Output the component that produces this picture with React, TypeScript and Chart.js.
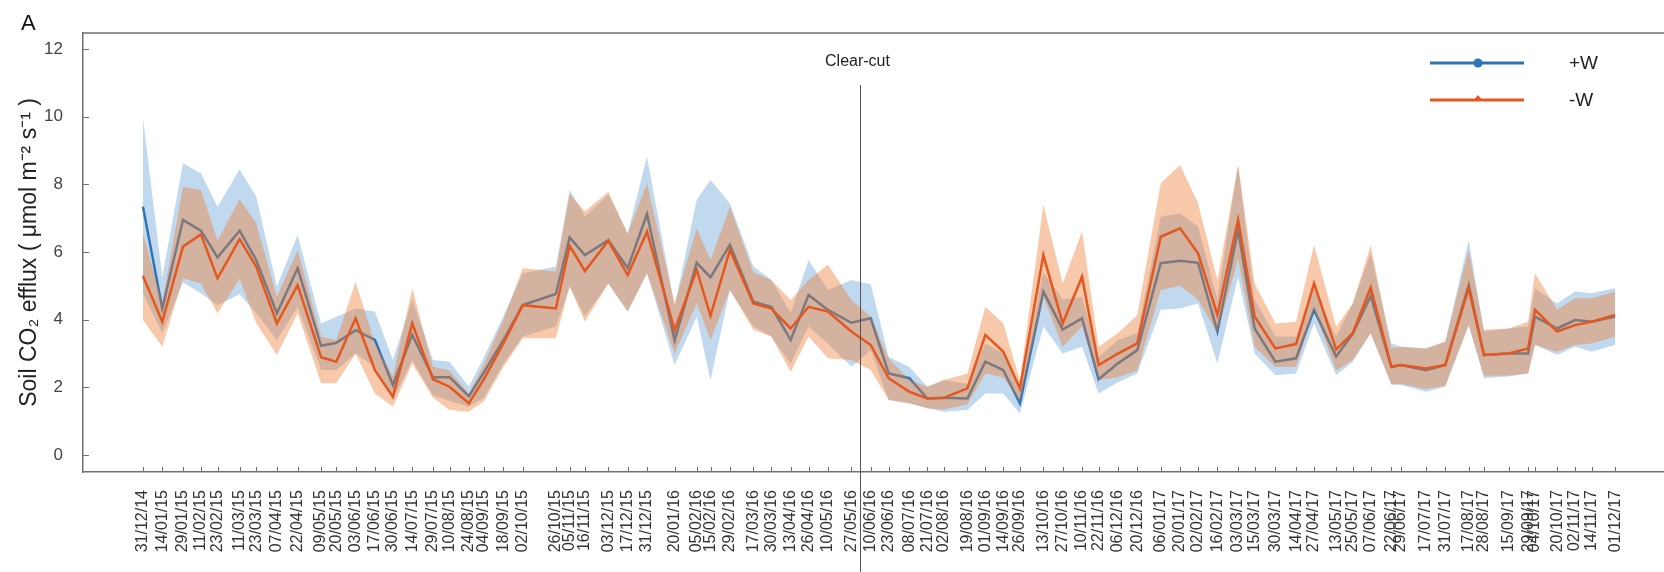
import React, { useEffect, useRef } from "react";
import { Chart, registerables } from "chart.js";

Chart.register(...registerables);

const dates = [
  "31/12/14", "14/01/15", "29/01/15", "11/02/15", "23/02/15", "11/03/15", "23/03/15", "07/04/15", "22/04/15", "09/05/15",
  "20/05/15", "03/06/15", "17/06/15", "30/06/15", "14/07/15", "29/07/15", "10/08/15", "24/08/15", "04/09/15", "18/09/15",
  "02/10/15", "26/10/15", "05/11/15", "16/11/15", "03/12/15", "17/12/15", "31/12/15", "20/01/16", "05/02/16", "15/02/16",
  "29/02/16", "17/03/16", "30/03/16", "13/04/16", "26/04/16", "10/05/16", "27/05/16", "10/06/16", "23/06/16", "08/07/16",
  "21/07/16", "02/08/16", "19/08/16", "01/09/16", "14/09/16", "26/09/16", "13/10/16", "27/10/16", "10/11/16", "22/11/16",
  "06/12/16", "20/12/16", "06/01/17", "20/01/17", "02/02/17", "16/02/17", "03/03/17", "15/03/17", "30/03/17", "14/04/17",
  "27/04/17", "13/05/17", "25/05/17", "07/06/17", "22/06/17", "29/06/17", "17/07/17", "31/07/17", "17/08/17", "28/08/17",
  "15/09/17", "29/09/17", "04/10/17", "20/10/17", "02/11/17", "14/11/17", "01/12/17",
];

const plusWMean = [
  7.34, 4.33, 6.95, 6.63, 5.84, 6.63, 5.76, 4.19, 5.52, 3.23,
  3.32, 3.69, 3.40, 2.07, 3.55, 2.30, 2.30, 1.74, 2.45, 3.40,
  4.43, 4.76, 6.43, 5.91, 6.35, 5.52, 7.12, 3.38, 5.68, 5.25,
  6.21, 4.53, 4.38, 3.40, 4.73, 4.29, 3.91, 4.04, 2.41, 2.27,
  1.67, 1.69, 1.67, 2.76, 2.51, 1.53, 4.83, 3.71, 4.04, 2.24,
  2.71, 3.10, 5.67, 5.74, 5.68, 3.65, 6.65, 3.74, 2.76, 2.86,
  4.29, 2.91, 3.58, 4.70, 2.61, 2.66, 2.51, 2.66, 5.02, 2.96,
  3.00, 3.00, 4.09, 3.74, 3.99, 3.94, 4.09,
];
const plusWHigh = [
  9.96, 5.26, 8.62, 8.33, 7.34, 8.44, 7.64, 4.98, 6.50, 3.89,
  4.09, 4.33, 4.24, 2.81, 4.60, 2.81, 2.76, 2.02, 2.90, 4.10,
  5.37, 5.57, 7.83, 7.04, 7.70, 6.55, 8.82, 4.40, 7.54, 8.13,
  7.44, 5.57, 5.17, 4.20, 5.76, 4.88, 5.17, 5.05, 2.90, 2.60,
  2.02, 2.22, 2.10, 3.30, 3.00, 2.00, 5.40, 4.60, 4.68, 2.90,
  3.40, 3.60, 7.04, 7.14, 6.75, 4.60, 8.57, 4.60, 3.50, 3.50,
  4.90, 3.50, 4.48, 5.96, 3.30, 3.20, 3.15, 3.35, 6.35, 3.65,
  3.74, 3.80, 4.93, 4.48, 4.83, 4.78, 4.93,
];
const plusWLow = [
  4.78, 3.60, 5.10, 4.78, 4.43, 4.75, 4.20, 3.40, 4.38, 2.51,
  2.51, 3.00, 2.61, 1.63, 2.81, 1.77, 1.60, 1.43, 1.70, 2.70,
  3.50, 3.80, 4.98, 4.10, 5.07, 4.24, 5.37, 2.66, 4.09, 2.22,
  4.88, 3.80, 3.50, 2.70, 3.80, 3.30, 2.61, 3.10, 1.63, 1.53,
  1.38, 1.28, 1.33, 1.82, 1.82, 1.23, 3.80, 3.00, 3.20, 1.82,
  2.15, 2.41, 4.29, 4.33, 4.48, 2.71, 5.27, 3.00, 2.36, 2.41,
  3.89, 2.36, 2.75, 3.60, 2.07, 2.07, 1.87, 2.02, 3.84, 2.27,
  2.32, 2.41, 3.25, 2.96, 3.20, 3.05, 3.25,
];

const minusWMean = [
  5.29, 3.94, 6.16, 6.52, 5.22, 6.38, 5.57, 3.89, 5.02, 2.89,
  2.76, 4.04, 2.51, 1.72, 3.89, 2.24, 2.02, 1.53, 2.25, 3.30,
  4.43, 4.33, 6.18, 5.44, 6.33, 5.32, 6.60, 3.69, 5.47, 4.11,
  6.06, 4.48, 4.33, 3.74, 4.38, 4.24, 3.65, 3.25, 2.27, 1.87,
  1.67, 1.69, 1.97, 3.55, 3.05, 1.97, 5.91, 3.89, 5.27, 2.66,
  3.00, 3.30, 6.45, 6.70, 5.96, 4.14, 6.95, 4.09, 3.15, 3.28,
  5.07, 3.12, 3.60, 4.95, 2.61, 2.66, 2.56, 2.66, 4.93, 2.96,
  3.00, 3.15, 4.29, 3.65, 3.84, 3.94, 4.14,
];
const minusWHigh = [
  6.56, 4.50, 7.93, 7.83, 6.35, 7.56, 6.85, 4.68, 6.06, 3.50,
  3.40, 5.12, 3.30, 2.32, 4.93, 2.61, 2.50, 1.80, 2.70, 4.00,
  5.52, 5.42, 7.73, 7.20, 7.78, 6.55, 8.03, 4.48, 6.70, 5.76,
  7.34, 5.40, 5.17, 4.58, 5.17, 5.62, 4.58, 4.09, 2.85, 2.22,
  2.02, 2.22, 2.41, 4.38, 3.89, 2.20, 7.39, 5.07, 6.60, 3.20,
  3.60, 4.14, 8.03, 8.57, 7.44, 5.17, 8.57, 5.07, 3.89, 3.94,
  6.21, 3.79, 4.48, 6.20, 3.15, 3.20, 3.15, 3.35, 6.06, 3.70,
  3.74, 3.94, 5.37, 4.29, 4.63, 4.63, 4.83,
];
const minusWLow = [
  3.99, 3.20, 5.22, 5.07, 4.19, 5.20, 3.90, 2.96, 4.19, 2.12,
  2.12, 3.00, 1.82, 1.43, 2.70, 1.70, 1.33, 1.28, 1.60, 2.60,
  3.45, 3.45, 4.98, 3.94, 5.07, 4.24, 5.37, 3.00, 4.48, 3.40,
  4.88, 3.70, 3.50, 2.46, 3.50, 2.86, 2.81, 2.51, 1.63, 1.53,
  1.38, 1.35, 1.50, 2.41, 2.30, 1.60, 4.68, 3.20, 3.80, 2.22,
  2.30, 2.50, 4.88, 5.00, 4.60, 3.60, 5.80, 3.20, 2.60, 2.60,
  4.30, 2.50, 2.81, 3.60, 2.10, 2.10, 1.95, 2.05, 3.84, 2.35,
  2.35, 2.41, 3.25, 3.05, 3.25, 3.30, 3.50,
];

const yTicks = [0, 2, 4, 6, 8, 10, 12];
const seriesNames = ["+W", "-W"];
const clearCutDate = "02/06/16";
const clearCutLabel = "Clear-cut";
const panelLabel = "A";
const yTitle = "Soil CO\u2082 efflux ( \u03bcmol m\u207b\u00b2 s\u207b\u00b9 )";

const BLUE = "#2E75B6";
const ORANGE = "#E4571E";
const BLUE_BAND = "rgba(91,155,213,0.38)";
const ORANGE_BAND = "rgba(237,125,49,0.42)";
const AXIS = "#707070";
const FONT = "'Liberation Sans', Arial, sans-serif";

function toDay(s: string): number {
  const [d, m, y] = s.split("/").map(Number);
  const t0 = Date.UTC(2014, 11, 31);
  return Math.round((Date.UTC(2000 + y, m - 1, d) - t0) / 86400000);
}

const days = dates.map(toDay);
const pts = (vals: number[]) => vals.map((v, i) => ({ x: days[i], y: v }));

export default function App() {
  const ref = useRef<HTMLCanvasElement | null>(null);

  useEffect(() => {
    if (!ref.current) return;

    const overlay = {
      id: "overlay",
      afterDatasetsDraw(chart: any) {
        const { ctx, chartArea, scales } = chart;
        const xs = scales.x;
        const ys = scales.y;
        ctx.save();
        // top frame
        ctx.strokeStyle = AXIS;
        ctx.lineWidth = 1.5;
        ctx.beginPath();
        ctx.moveTo(chartArea.left, chartArea.top);
        ctx.lineTo(chartArea.right, chartArea.top);
        ctx.stroke();
        // inward x and y ticks
        ctx.lineWidth = 1;
        ctx.beginPath();
        days.forEach((d) => {
          const px = Math.round(xs.getPixelForValue(d)) + 0.5;
          ctx.moveTo(px, chartArea.bottom);
          ctx.lineTo(px, chartArea.bottom - 5);
        });
        yTicks.forEach((v) => {
          const py = Math.round(ys.getPixelForValue(v)) + 0.5;
          ctx.moveTo(chartArea.left, py);
          ctx.lineTo(chartArea.left + 6, py);
        });
        ctx.stroke();
        // clear-cut line
        const cx = Math.round(xs.getPixelForValue(toDay(clearCutDate))) + 0.5;
        ctx.strokeStyle = "#555";
        ctx.lineWidth = 1;
        ctx.beginPath();
        ctx.moveTo(cx, 85);
        ctx.lineTo(cx, chart.height);
        ctx.stroke();
        ctx.fillStyle = "#222";
        ctx.font = `16px ${FONT}`;
        ctx.textAlign = "center";
        ctx.textBaseline = "middle";
        ctx.fillText(clearCutLabel, cx - 3, 62);
        // legend
        const items = [
          { name: seriesNames[0], color: BLUE, y: 63, marker: "circle" },
          { name: seriesNames[1], color: ORANGE, y: 100, marker: "triangle" },
        ];
        items.forEach((it) => {
          ctx.strokeStyle = it.color;
          ctx.fillStyle = it.color;
          ctx.lineWidth = 3;
          ctx.beginPath();
          ctx.moveTo(1430, it.y);
          ctx.lineTo(1524, it.y);
          ctx.stroke();
          ctx.beginPath();
          if (it.marker === "circle") {
            ctx.arc(1478, it.y, 4.5, 0, Math.PI * 2);
          } else {
            ctx.moveTo(1478, it.y - 5);
            ctx.lineTo(1483, it.y + 1);
            ctx.lineTo(1473, it.y + 1);
            ctx.closePath();
          }
          ctx.fill();
          ctx.fillStyle = "#222";
          ctx.font = `19px ${FONT}`;
          ctx.textAlign = "left";
          ctx.textBaseline = "middle";
          ctx.fillText(it.name, 1569, it.y + 1);
        });
        // panel label
        ctx.font = `22px ${FONT}`;
        ctx.fillStyle = "#111";
        ctx.textAlign = "left";
        ctx.textBaseline = "alphabetic";
        ctx.fillText(panelLabel, 21, 30);
        ctx.restore();
      },
    };

    const band = (data: any, color: string, order: number, fill: any) => ({
      data,
      borderWidth: 0,
      borderColor: "transparent",
      backgroundColor: color,
      pointRadius: 0,
      fill,
      order,
      tension: 0,
    });

    const chart = new Chart(ref.current, {
      type: "line",
      data: {
        datasets: [
          band(pts(plusWHigh), BLUE_BAND, 6, "+1"),
          band(pts(plusWLow), BLUE_BAND, 5, false),
          {
            label: seriesNames[0],
            data: pts(plusWMean),
            borderColor: BLUE,
            backgroundColor: BLUE,
            borderWidth: 2.5,
            pointRadius: 0,
            fill: false,
            order: 4,
            tension: 0,
          },
          band(pts(minusWHigh), ORANGE_BAND, 3, "+1"),
          band(pts(minusWLow), ORANGE_BAND, 2, false),
          {
            label: seriesNames[1],
            data: pts(minusWMean),
            borderColor: ORANGE,
            backgroundColor: ORANGE,
            borderWidth: 2.5,
            pointRadius: 0,
            fill: false,
            order: 1,
            tension: 0,
          },
        ] as any,
      },
      options: {
        animation: false,
        responsive: false,
        maintainAspectRatio: false,
        layout: { padding: { top: 33, left: 0, right: 0, bottom: 0 } },
        plugins: {
          legend: { display: false },
          tooltip: { enabled: false },
        },
        scales: {
          x: {
            type: "linear",
            min: -43.4,
            max: 1101.4,
            afterBuildTicks: (s: any) => {
              s.ticks = days.map((d) => ({ value: d }));
            },
            afterFit: (s: any) => {
              s.height = 100;
            },
            grid: { display: false, drawTicks: false },
            border: { display: true, color: AXIS, width: 1.5 },
            ticks: {
              autoSkip: false,
              maxRotation: 90,
              minRotation: 90,
              padding: 18,
              color: "#333",
              font: { family: FONT, size: 16 },
              callback: (_v: any, i: number) => dates[i],
            },
          },
          y: {
            type: "linear",
            min: -0.5,
            max: 12.47,
            afterBuildTicks: (s: any) => {
              s.ticks = yTicks.map((v) => ({ value: v }));
            },
            afterFit: (s: any) => {
              s.width = 83;
            },
            grid: { display: false, drawTicks: false },
            border: { display: true, color: AXIS, width: 1.5 },
            ticks: {
              padding: 20,
              color: "#444",
              font: { family: FONT, size: 17 },
              callback: (v: any) => String(v),
            },
            title: {
              display: true,
              text: yTitle,
              color: "#222",
              font: { family: FONT, size: 23 },
              padding: { top: 16, bottom: 0 },
            },
          },
        },
      } as any,
      plugins: [overlay],
    });

    return () => chart.destroy();
  }, []);

  return (
    <div style={{ position: "fixed", left: 0, top: 0, width: 1664, height: 572, background: "#fff" }}>
      <canvas ref={ref} width={1664} height={572} style={{ width: 1664, height: 572, display: "block" }} />
    </div>
  );
}
